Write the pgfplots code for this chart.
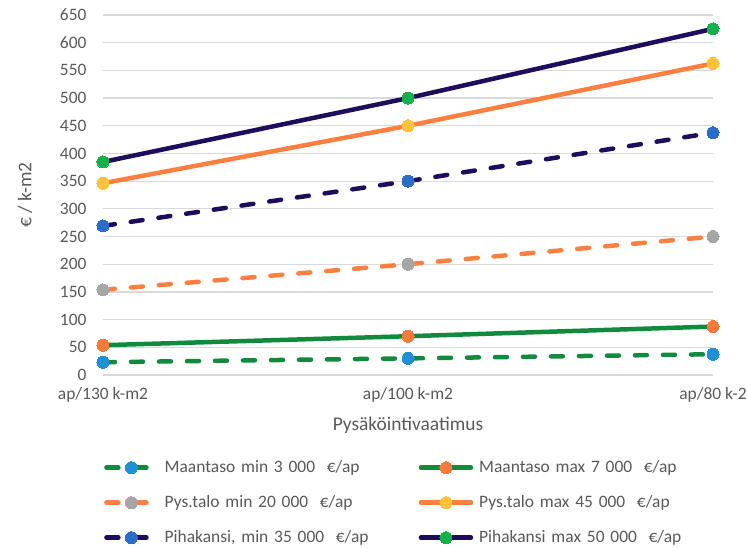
\documentclass[border=0pt]{standalone}
\usepackage{pgfplots}
\pgfplotsset{compat=1.18}
\usepackage{fontspec}
\setmainfont{Carlito}
\definecolor{txtgray}{HTML}{595959}
\definecolor{gridgray}{HTML}{D9D9D9}
\definecolor{lgreen}{HTML}{118A3D}
\definecolor{lorange}{HTML}{FF7F41}
\definecolor{lnavy}{HTML}{1F0C5C}
\definecolor{mcyan}{HTML}{1E90D6}
\definecolor{morange}{HTML}{F97A3A}
\definecolor{mgray}{HTML}{A6A6A6}
\definecolor{myellow}{HTML}{FFC23D}
\definecolor{mblue}{HTML}{2A6CC8}
\definecolor{mgreen}{HTML}{14B04A}
\begin{document}
\begin{tikzpicture}
\path[use as bounding box] (-103bp,-173bp) rectangle (644bp,375bp);
\begin{axis}[
  scale only axis, width=610bp, height=360bp,
  xmin=0, xmax=2, ymin=0, ymax=650,
  xtick={0,1,2}, xticklabels={ap/130 k-m2, ap/100 k-m2, ap/80 k-2},
  ytick={0,50,...,650},
  ymajorgrids, grid style={color=gridgray, line width=1.2bp},
  axis line style={draw=none}, major tick length=0pt,
  tick label style={font=\fontsize{17.5}{20}\selectfont, text=txtgray},
  /pgf/number format/assume math mode=true,
  yticklabel style={anchor=east, xshift=-13bp},
  xticklabel style={anchor=north, yshift=-9bp},
  xlabel={Pysäköintivaatimus}, ylabel={€ / k-m2},
  label style={font=\fontsize{19.5}{22}\selectfont, text=txtgray},
  xlabel style={at={([yshift=-50bp]axis description cs:0.5,0)}, anchor=center},
  ylabel style={at={([xshift=-78bp]axis description cs:0,0.5)}, anchor=center},
  clip=false,
  legend columns=2,
  legend cell align=left,
  legend style={at={([xshift=1bp,yshift=-84bp]axis description cs:0,0)}, anchor=north west,
    draw=none, inner sep=0pt, row sep=18bp,
    font=\fontsize{17.5}{20}\selectfont, text=txtgray,
    nodes={anchor=west, text width=230bp, inner xsep=2bp, inner ysep=0pt, text height=13bp, text depth=4bp},
    /tikz/every odd column/.style={column sep=4bp},
    /tikz/every even column/.style={column sep=22bp}},
  legend image code/.code={\draw[mark repeat=2,mark phase=2,#1] plot coordinates {(0bp,0bp) (25bp,0bp) (50bp,0bp)};},
  every axis plot/.append style={line width=4.5bp, line cap=round},
  mark size=6bp,
]
\addplot[lgreen, dash pattern=on 12bp off 16bp, mark=*, mark options={solid, fill=mcyan, draw=mcyan, line width=0pt}]
  coordinates {(0,23.1) (1,30) (2,37.5)};
\addlegendentry{Maantaso min 3 000~~€/ap}
\addplot[lgreen, mark=*, mark options={solid, fill=morange, draw=morange, line width=0pt}]
  coordinates {(0,53.8) (1,70) (2,87.5)};
\addlegendentry{Maantaso max 7 000~~€/ap}
\addplot[lorange, dash pattern=on 12bp off 16bp, mark=*, mark options={solid, fill=mgray, draw=mgray, line width=0pt}]
  coordinates {(0,153.8) (1,200) (2,250)};
\addlegendentry{Pys.talo min 20 000~~€/ap}
\addplot[lorange, mark=*, mark options={solid, fill=myellow, draw=myellow, line width=0pt}]
  coordinates {(0,346.2) (1,450) (2,562.5)};
\addlegendentry{Pys.talo max 45 000~~€/ap}
\addplot[lnavy, dash pattern=on 12bp off 16bp, mark=*, mark options={solid, fill=mblue, draw=mblue, line width=0pt}]
  coordinates {(0,269.2) (1,350) (2,437.5)};
\addlegendentry{Pihakansi, min 35 000~~€/ap}
\addplot[lnavy, mark=*, mark options={solid, fill=mgreen, draw=mgreen, line width=0pt}]
  coordinates {(0,384.6) (1,500) (2,625)};
\addlegendentry{Pihakansi max 50 000~~€/ap}
\end{axis}
\end{tikzpicture}
\end{document}
